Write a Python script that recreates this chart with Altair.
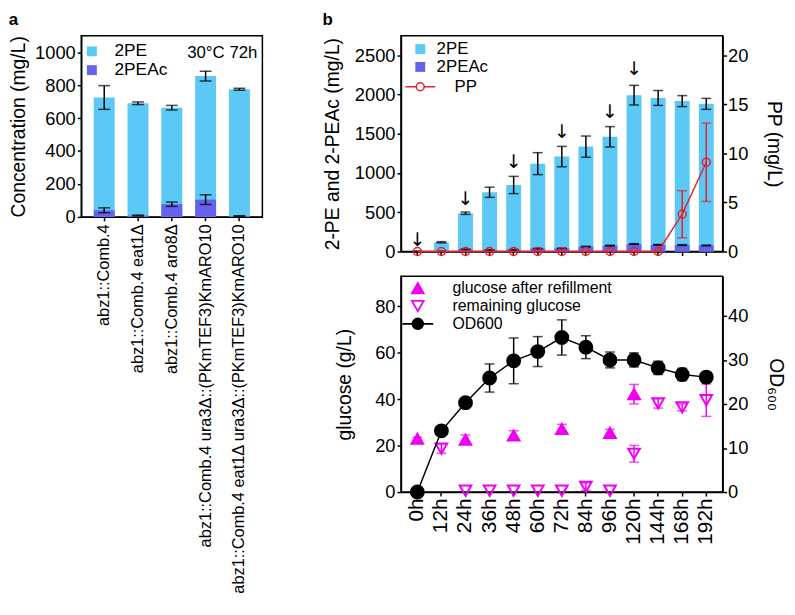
import altair as alt
import pandas as pd

FONT = "Liberation Sans"
C_2PE = "#5CC8F6"
C_2PEAC = "#6662EE"
C_PP = "#E8202A"
C_MAG = "#F000F0"

# ---------------- panel a data ----------------
strains = [
    "abz1::Comb.4",
    "abz1::Comb.4 eat1Δ",
    "abz1::Comb.4 aro8Δ",
    "abz1::Comb.4 ura3Δ::(PKmTEF3)KmARO10",
    "abz1::Comb.4 eat1Δ ura3Δ::(PKmTEF3)KmARO10",
]
a_series = ["2PE", "2PEAc"]
a_2pe = [725, 690, 663, 855, 775]
a_2pe_err = [72, 8, 14, 30, 6]
a_2peac = [40, 8, 77, 105, 5]
a_2peac_err = [15, 3, 13, 30, 2]
a_note = ["30°C 72h"]

# ---------------- panel b data ----------------
times = ["0h", "12h", "24h", "36h", "48h", "60h", "72h", "84h", "96h",
         "120h", "144h", "168h", "192h"]
b_2pe = [0, 118, 488, 755, 848, 1120, 1210, 1337, 1462, 1993, 1957, 1917, 1882]
b_2pe_err = [0, 8, 15, 65, 110, 140, 130, 135, 130, 125, 95, 70, 70]
b_2peac = [0, 3, 28, 20, 22, 37, 40, 62, 75, 96, 85, 83, 78]
b_2peac_err = [0, 2, 3, 3, 4, 4, 4, 5, 5, 5, 5, 5, 5]
pp = [0, 0, 0, 0, 0, 0, 0, 0, 0, 0, 0, 3.8, 9.1]
pp_err = [0, 0, 0, 0, 0, 0, 0, 0, 0, 0, 0, 2.4, 4.0]
arrow_times = ["0h", "24h", "48h", "72h", "96h", "120h"]
arrow_y = [150, 675, 1137, 1525, 1775, 2325]

g_series = ["glucose after refillment", "remaining glucose", "OD600"]
refill_times = ["0h", "24h", "48h", "72h", "96h", "120h"]
refill = [23.0, 22.6, 24.4, 27.2, 25.5, 42.2]
refill_err = [0.6, 2.0, 2.0, 2.0, 1.5, 4.2]
remain_times = ["12h", "24h", "36h", "48h", "60h", "72h", "84h", "96h",
                "120h", "144h", "168h", "192h"]
remain = [18.7, 0.6, 0.6, 0.6, 0.6, 0.6, 2.3, 0.6, 16.5, 38.2, 36.5, 39.6]
remain_err = [2.0, 0, 0, 0, 0, 0, 1.6, 0, 3.6, 2.0, 1.5, 7.0]
od600 = [0, 13.9, 20.3, 25.9, 29.8, 31.9, 35.1, 32.9, 30.0, 30.0, 28.2, 26.7, 26.1]
od600_err = [0, 0.6, 0.9, 3.2, 5.2, 3.4, 4.0, 2.6, 1.8, 1.6, 1.5, 1.4, 1.0]

PP_PATH = "M-3,0L-0.8,0M0.8,0L3,0M-0.8,0A0.8,0.8,0,1,1,0.8,0A0.8,0.8,0,1,1,-0.8,0Z"
OD_PATH = "M-2.6,0L-0.9,0M0.9,0L2.6,0M-0.9,0A0.9,0.9,0,1,1,0.9,0A0.9,0.9,0,1,1,-0.9,0Z"

# ---------------- tables ----------------
df_a = pd.DataFrame({
    "strain": strains * 2,
    "series": [a_series[0]] * len(strains) + [a_series[1]] * len(strains),
    "value": a_2pe + a_2peac,
    "err": a_2pe_err + a_2peac_err,
})
df_a["lo"] = df_a["value"] - df_a["err"]
df_a["hi"] = df_a["value"] + df_a["err"]

df_bt = pd.DataFrame({
    "time": times * 2,
    "series": [a_series[0]] * len(times) + [a_series[1]] * len(times),
    "value": b_2pe + b_2peac,
    "err": b_2pe_err + b_2peac_err,
})
df_bt["lo"] = df_bt["value"] - df_bt["err"]
df_bt["hi"] = df_bt["value"] + df_bt["err"]

df_pp = pd.DataFrame({"time": times, "pp": pp, "err": pp_err, "series": "PP"})
df_pp["lo"] = df_pp["pp"] - df_pp["err"]
df_pp["hi"] = df_pp["pp"] + df_pp["err"]

df_arrow = pd.DataFrame({"time": arrow_times, "ay": arrow_y, "t": "↓"})

df_g = pd.DataFrame({
    "time": refill_times + remain_times,
    "val": refill + remain,
    "err": refill_err + remain_err,
    "series": [g_series[0]] * len(refill_times) + [g_series[1]] * len(remain_times),
})
df_g["lo"] = df_g["val"] - df_g["err"]
df_g["hi"] = df_g["val"] + df_g["err"]

df_od = pd.DataFrame({"time": times, "od": od600, "err": od600_err, "series": g_series[2]})
df_od["lo"] = df_od["od"] - df_od["err"]
df_od["hi"] = df_od["od"] + df_od["err"]

TITLE_KW = dict(anchor="start", fontSize=17, fontWeight="bold", font=FONT,
                frame="bounds", baseline="alphabetic", offset=-6)

# ---------------- panel a ----------------
xa = alt.X("strain:N", sort=strains,
           scale=alt.Scale(paddingInner=0.38, paddingOuter=0.37),
           axis=alt.Axis(title=None, labelAngle=-90, labelFontSize=16.5,
                         labelLimit=600, tickSize=4, labelPadding=3))
ya_scale = alt.Scale(domain=[0, 1100], nice=False)
ya_axis = alt.Axis(values=[0, 200, 400, 600, 800, 1000], format="d",
                   title="Concentration (mg/L)", titlePadding=6, tickSize=4)
base_a = alt.Chart(df_a)
bars_a = base_a.mark_bar().encode(
    x=xa,
    y=alt.Y("value:Q", stack=None, scale=ya_scale, axis=ya_axis),
    fill=alt.Fill("series:N", scale=alt.Scale(domain=a_series, range=[C_2PE, C_2PEAC]),
                  legend=alt.Legend(orient="none", legendX=2, legendY=7, title=None,
                                    symbolType="square", symbolSize=100,
                                    labelFontSize=17.5, labelOffset=14)),
)
rule_a = base_a.mark_rule(color="black", strokeWidth=1.5).encode(
    x=xa, y=alt.Y("lo:Q", scale=ya_scale, axis=ya_axis), y2="hi:Q")
caplo_a = base_a.mark_tick(color="black", thickness=1.5, size=12).encode(
    x=xa, y=alt.Y("lo:Q", scale=ya_scale, axis=ya_axis))
caphi_a = base_a.mark_tick(color="black", thickness=1.5, size=12).encode(
    x=xa, y=alt.Y("hi:Q", scale=ya_scale, axis=ya_axis))
note_a = alt.Chart(pd.DataFrame({"t": a_note})).mark_text(
    align="right", baseline="middle", fontSize=17, font=FONT, color="black"
).encode(text="t:N", x=alt.value(178), y=alt.value(17))

panel_a = alt.layer(bars_a, rule_a, caplo_a, caphi_a, note_a).properties(
    width=183, height=183, title=alt.TitleParams("a", **TITLE_KW))

# ---------------- panel b top ----------------
xb = alt.X("time:N", sort=times,
           scale=alt.Scale(type="band", domain=times, paddingInner=0.38, paddingOuter=0.37),
           axis=alt.Axis(labels=False, title=None, tickSize=4))
yl_scale = alt.Scale(domain=[0, 2750], nice=False)
yr_scale = alt.Scale(domain=[0, 22], nice=False)
yl_axis = alt.Axis(values=[0, 500, 1000, 1500, 2000, 2500], orient="left", format="d",
                   title="2-PE and 2-PEAc (mg/L)", titlePadding=12, tickSize=4)
yr_axis = alt.Axis(values=[0, 5, 10, 15, 20], orient="right",
                   title="PP (mg/L)", titlePadding=16, labelPadding=1, tickSize=4)

base_bt = alt.Chart(df_bt)
bars_bt = base_bt.mark_bar().encode(
    x=xb,
    y=alt.Y("value:Q", stack=None, scale=yl_scale, axis=yl_axis),
    fill=alt.Fill("series:N", scale=alt.Scale(domain=a_series, range=[C_2PE, C_2PEAC]),
                  legend=alt.Legend(orient="none", legendX=11, legendY=5, title=None,
                                    symbolType="square", symbolSize=100,
                                    labelFontSize=17, labelOffset=8)),
)
rule_bt = base_bt.mark_rule(color="black", strokeWidth=1.5).encode(
    x=xb, y=alt.Y("lo:Q", scale=yl_scale, axis=yl_axis), y2="hi:Q")
caplo_bt = base_bt.mark_tick(color="black", thickness=1.5, size=10).encode(
    x=xb, y=alt.Y("lo:Q", scale=yl_scale, axis=yl_axis))
caphi_bt = base_bt.mark_tick(color="black", thickness=1.5, size=10).encode(
    x=xb, y=alt.Y("hi:Q", scale=yl_scale, axis=yl_axis))
arrows = alt.Chart(df_arrow).mark_text(fontSize=19, font="DejaVu Sans", color="black",
                                       baseline="middle").encode(
    x=xb, y=alt.Y("ay:Q", scale=yl_scale, axis=yl_axis), text="t:N")
left_top = alt.layer(bars_bt, rule_bt, caplo_bt, caphi_bt, arrows)

base_pp = alt.Chart(df_pp)
line_pp = base_pp.mark_line(strokeWidth=1.5).encode(
    x=xb,
    y=alt.Y("pp:Q", scale=yr_scale, axis=yr_axis),
    stroke=alt.Stroke("series:N", scale=alt.Scale(domain=["PP"], range=[C_PP]),
                      legend=alt.Legend(orient="none", legendX=11, legendY=43, title=None,
                                        symbolType=PP_PATH, symbolSize=100,
                                        symbolStrokeWidth=1.5, symbolFillColor="white",
                                        labelFontSize=17, labelOffset=26)),
)
pp_err_src = base_pp.transform_filter("datum.err > 0")
rule_pp = pp_err_src.mark_rule(color=C_PP, strokeWidth=1.5).encode(
    x=xb, y=alt.Y("lo:Q", scale=yr_scale, axis=yr_axis), y2="hi:Q")
caplo_pp = pp_err_src.mark_tick(color=C_PP, thickness=1.5, size=10).encode(
    x=xb, y=alt.Y("lo:Q", scale=yr_scale, axis=yr_axis))
caphi_pp = pp_err_src.mark_tick(color=C_PP, thickness=1.5, size=10).encode(
    x=xb, y=alt.Y("hi:Q", scale=yr_scale, axis=yr_axis))
pts_pp = base_pp.mark_point(shape="circle", size=64, strokeWidth=1.5, color=C_PP,
                            filled=False, opacity=1).encode(
    x=xb, y=alt.Y("pp:Q", scale=yr_scale, axis=yr_axis))
right_top = alt.layer(line_pp, rule_pp, caplo_pp, caphi_pp, pts_pp)

top_b = alt.layer(left_top, right_top).resolve_scale(y="independent").properties(
    width=325, height=218, title=alt.TitleParams("b", **TITLE_KW))

# ---------------- panel b bottom ----------------
xbb = alt.X("time:N", sort=times,
            scale=alt.Scale(type="band", domain=times, paddingInner=0.38, paddingOuter=0.37),
            axis=alt.Axis(title=None, labelAngle=-90, labelFontSize=21,
                          labelPadding=2, tickSize=4))
yg_scale = alt.Scale(domain=[0, 93], nice=False)
yo_scale = alt.Scale(domain=[0, 49], nice=False)
yg_axis = alt.Axis(values=[0, 20, 40, 60, 80], orient="left",
                   title="glucose (g/L)", titlePadding=20, tickSize=4)
yo_axis = alt.Axis(values=[0, 10, 20, 30, 40], orient="right",
                   title="OD₆₀₀", titlePadding=18, labelPadding=1, tickSize=4)

LEG_B = alt.Legend(orient="none", legendX=9, legendY=4, title=None,
                   symbolSize=144, symbolStrokeWidth=1.8, labelLimit=400,
                   labelFontSize=16, labelOffset=27)
shape_sc = alt.Scale(domain=g_series, range=["triangle-up", "triangle-down", OD_PATH])
fill_sc = alt.Scale(domain=g_series, range=[C_MAG, "transparent", "black"])
stroke_sc = alt.Scale(domain=g_series, range=[C_MAG, C_MAG, "black"])

base_g = alt.Chart(df_g)
g_err_src = base_g.transform_filter("datum.err > 0")
rule_g = g_err_src.mark_rule(color=C_MAG, strokeWidth=1.5).encode(
    x=xbb, y=alt.Y("lo:Q", scale=yg_scale, axis=yg_axis), y2="hi:Q")
caplo_g = g_err_src.mark_tick(color=C_MAG, thickness=1.5, size=10).encode(
    x=xbb, y=alt.Y("lo:Q", scale=yg_scale, axis=yg_axis))
caphi_g = g_err_src.mark_tick(color=C_MAG, thickness=1.5, size=10).encode(
    x=xbb, y=alt.Y("hi:Q", scale=yg_scale, axis=yg_axis))
pts_g = base_g.mark_point(size=140, strokeWidth=2, opacity=1).encode(
    x=xbb, y=alt.Y("val:Q", scale=yg_scale, axis=yg_axis),
    shape=alt.Shape("series:N", scale=shape_sc, legend=LEG_B),
    fill=alt.Fill("series:N", scale=fill_sc, legend=LEG_B),
    stroke=alt.Stroke("series:N", scale=stroke_sc, legend=LEG_B),
)
left_bot = alt.layer(rule_g, caplo_g, caphi_g, pts_g)

base_od = alt.Chart(df_od)
line_od = base_od.mark_line(color="black", strokeWidth=1.5).encode(
    x=xbb, y=alt.Y("od:Q", scale=yo_scale, axis=yo_axis))
od_err_src = base_od.transform_filter("datum.err > 0")
rule_od = od_err_src.mark_rule(color="black", strokeWidth=1.5).encode(
    x=xbb, y=alt.Y("lo:Q", scale=yo_scale, axis=yo_axis), y2="hi:Q")
caplo_od = od_err_src.mark_tick(color="black", thickness=1.5, size=10).encode(
    x=xbb, y=alt.Y("lo:Q", scale=yo_scale, axis=yo_axis))
caphi_od = od_err_src.mark_tick(color="black", thickness=1.5, size=10).encode(
    x=xbb, y=alt.Y("hi:Q", scale=yo_scale, axis=yo_axis))
pts_od = base_od.mark_circle(size=170, opacity=1).encode(
    x=xbb, y=alt.Y("od:Q", scale=yo_scale, axis=yo_axis),
    fill=alt.Fill("series:N", scale=fill_sc, legend=LEG_B),
    stroke=alt.Stroke("series:N", scale=stroke_sc, legend=LEG_B),
)
right_bot = alt.layer(line_od, rule_od, caplo_od, caphi_od, pts_od)

bot_b = alt.layer(left_bot, right_bot).resolve_scale(y="independent").properties(
    width=325, height=218)

panel_b = alt.vconcat(top_b, bot_b, spacing=13).resolve_scale(
    fill="independent", stroke="independent", shape="independent"
).resolve_legend(fill="independent", stroke="independent", shape="independent")

chart = alt.hconcat(panel_a, panel_b, spacing=59).resolve_scale(
    fill="independent", stroke="independent", shape="independent"
).resolve_legend(fill="independent", stroke="independent", shape="independent"
).properties(padding={"left": 0, "top": -1, "right": 0, "bottom": 0}
).configure_view(stroke="black", strokeWidth=1.5
).configure_axis(
    labelFont=FONT, titleFont=FONT, labelColor="black", titleColor="black",
    labelFontSize=18.5, titleFontSize=19.5, titleFontWeight="normal",
    domainColor="black", tickColor="black", domainWidth=1.5, tickWidth=1.5,
    grid=False, labelPadding=2
).configure_legend(labelFont=FONT, labelColor="black", padding=0, rowPadding=0)

chart.save("out.html", embed_options={"renderer": "svg", "actions": False})
